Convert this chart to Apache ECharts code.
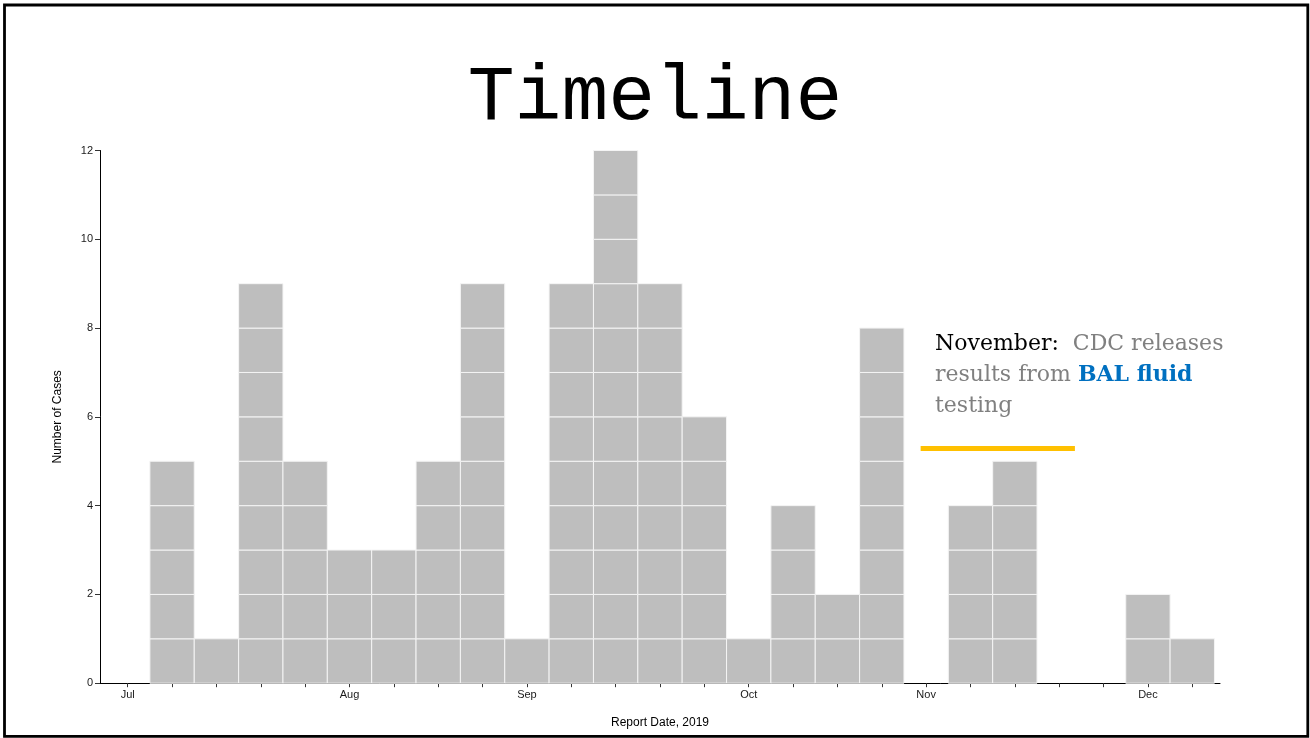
<!DOCTYPE html>
<html>
<head>
<meta charset="utf-8">
<script src="https://cdn.jsdelivr.net/npm/echarts@6/dist/echarts.min.js"></script>
<style>
  html, body { margin: 0; padding: 0; background: #fff; }
  #main { width: 1310px; height: 738px; }
</style>
</head>
<body>
<div id="main"></div>
<script>
// weekly case counts, first week = week of Jul 1
var weekCounts = [0, 5, 1, 9, 5, 3, 3, 5, 9, 1, 9, 12, 9, 6, 1, 4, 2, 8, 0, 4, 5, 0, 0, 2, 1];
// which week carries each month label
var monthWeeks = [0, 5, 9, 14, 18, 23];
var monthNames = ['Jul', 'Aug', 'Sep', 'Oct', 'Nov', 'Dec'];
var yTicks = [0, 2, 4, 6, 8, 10, 12];

// one cell per case, stacked inside its week
var cells = [];
weekCounts.forEach(function (n, w) {
  for (var k = 0; k < n; k++) cells.push([w, k]);
});
var allWeeks = weekCounts.map(function (n, w) { return w; });

var chart = echarts.init(document.getElementById('main'));

var serif = { fontFamily: 'DejaVu Serif', fontSize: 22, lineHeight: 31, fontWeight: 'normal' };

var option = {
  backgroundColor: '#fff',
  animation: false,
  title: [{
    text: 'Timeline',
    left: 'center',
    top: 59,
    padding: 0,
    textStyle: {
      fontFamily: 'Liberation Mono',
      fontSize: 78,
      fontWeight: 'normal',
      color: '#000',
      lineHeight: 78
    }
  }, {
    text: '{k|November:}  {g|CDC releases}\n{g|results from} {b|BAL fluid}\n{g|testing}',
    left: 935,
    top: 329,
    padding: 0,
    textStyle: {
      fontFamily: 'DejaVu Serif',
      fontSize: 22,
      lineHeight: 31,
      fontWeight: 'normal',
      rich: {
        k: Object.assign({ color: '#000' }, serif),
        g: Object.assign({ color: '#808080' }, serif),
        b: Object.assign({ color: '#0070C0' }, serif, { fontWeight: 'bold' })
      }
    }
  }],
  grid: {
    left: 100,
    right: 90,
    top: 150.5,
    bottom: 54.8
  },
  xAxis: {
    type: 'value',
    min: -0.625,
    max: 24.625,
    name: 'Report Date, 2019',
    nameLocation: 'middle',
    nameGap: 33,
    nameTextStyle: { fontFamily: 'Liberation Sans', fontSize: 12, color: '#000', verticalAlign: 'top' },
    splitLine: { show: false },
    axisLine: { show: true, onZero: false, lineStyle: { color: '#000', width: 1 } },
    axisTick: {
      show: true,
      length: 4,
      customValues: allWeeks,
      lineStyle: { color: '#333' }
    },
    axisLabel: {
      customValues: monthWeeks,
      margin: 6,
      fontFamily: 'Liberation Sans',
      fontSize: 11,
      color: '#1a1a1a',
      formatter: function (v) {
        var i = monthWeeks.indexOf(Math.round(v));
        return i >= 0 ? monthNames[i] : '';
      }
    }
  },
  yAxis: {
    type: 'value',
    min: 0,
    max: 12,
    interval: 2,
    name: 'Number of Cases',
    nameLocation: 'middle',
    nameGap: 36,
    nameTextStyle: { fontFamily: 'Liberation Sans', fontSize: 12, color: '#000' },
    splitLine: { show: false },
    axisLine: { show: true, onZero: false, lineStyle: { color: '#000', width: 1 } },
    axisTick: { show: true, length: 5, lineStyle: { color: '#333' } },
    axisLabel: {
      margin: 7,
      fontFamily: 'Liberation Sans',
      fontSize: 11,
      color: '#1a1a1a',
      customValues: yTicks
    }
  },
  series: [{
    type: 'custom',
    data: cells,
    renderItem: function (params, api) {
      var w = api.value(0), k = api.value(1);
      var p = api.coord([w - 0.5, k + 1]);
      var s = api.size([1, 1]);
      return {
        type: 'rect',
        shape: { x: p[0], y: p[1], width: s[0], height: s[1] },
        style: { fill: '#BEBEBE', stroke: '#F4F4F4', lineWidth: 1 }
      };
    },
    markLine: {
      silent: true,
      symbol: 'none',
      label: { show: false },
      lineStyle: { color: '#FFC000', width: 5, type: 'solid' },
      data: [[{ coord: [17.876, 5.3] }, { coord: [21.354, 5.3] }]]
    }
  }],
  graphic: [{
    type: 'rect',
    shape: { x: 4.5, y: 5, width: 1303.3, height: 731.3 },
    style: { fill: 'none', stroke: '#000', lineWidth: 2.8 },
    silent: true
  }]
};

chart.setOption(option);
</script>
</body>
</html>
